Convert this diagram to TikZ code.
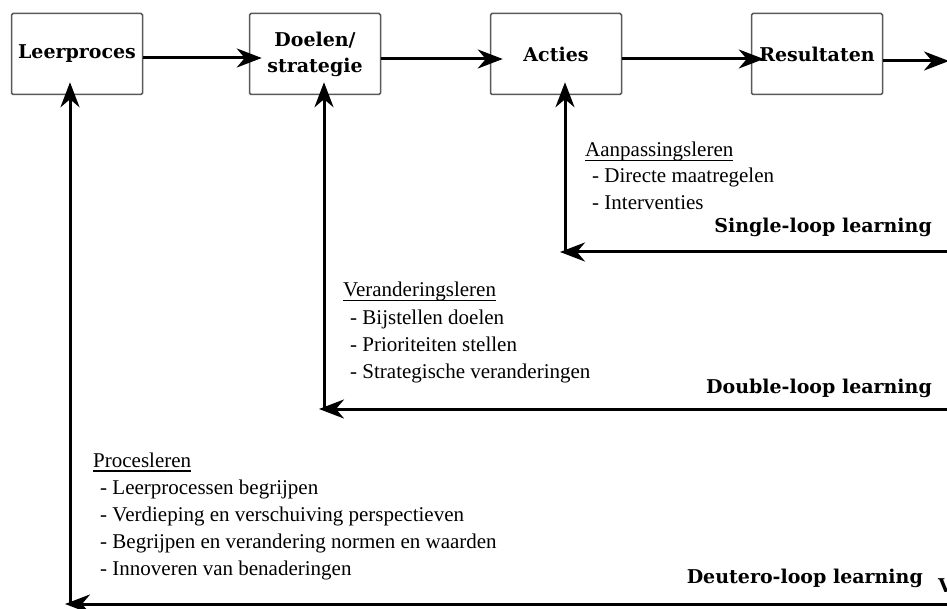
\documentclass[tikz,border=0pt]{standalone}
\usepackage{fontspec}
\setmainfont{Liberation Serif}
\newfontfamily\stagefont{DejaVu Serif}
\usetikzlibrary{arrows.meta}

% underlined heading word
\newcommand\headword[1]{\setbox0=\hbox{#1}\rlap{\rule[-4.5pt]{\wd0}{1.1pt}}\box0}

\begin{document}
\begin{tikzpicture}[x=1pt,y=-1pt,
  stage/.style={draw=black!65, line width=1.5pt, rounded corners=1.5pt,
    minimum width=131pt, minimum height=81pt, inner sep=0pt, align=center,
    font=\stagefont\bfseries\fontsize{19}{26}\selectfont},
  flow/.style={line width=3pt, -{Stealth[length=25pt,width=19pt,inset=8pt]}},
  into/.style={flow, shorten >=-13pt},
  back/.style={flow, shorten >=-5pt},
  note/.style={anchor=base west, inner sep=0pt, font=\fontsize{21}{27}\selectfont},
  looplabel/.style={anchor=base east, inner sep=0pt,
    font=\stagefont\bfseries\fontsize{19}{26}\selectfont}]

\useasboundingbox (0,0) rectangle (947,609);

% main chain of stages
\node[stage] (leer)   at (77,54)  {Leerproces};
\node[stage] (doel)   at (315,54) {Doelen/\\strategie};
\node[stage] (acties) at (556,54) {Acties};
\node[stage] (result) at (817,54) {Resultaten};
\coordinate (out) at (949,61);

\draw[into] ([yshift=-4pt]leer.east)   -- ([yshift=-4pt]doel.west);
\draw[into] ([yshift=-5pt]doel.east)   -- ([yshift=-5pt]acties.west);
\draw[into] ([yshift=-5pt]acties.east) -- ([yshift=-5pt]result.west);
\draw[flow] ([yshift=-7pt]result.east) -- (out);

% feedback loops
\coordinate (slR) at (950,252); \coordinate (slC) at (565,252);
\coordinate (dlR) at (950,409); \coordinate (dlC) at (324,409);
\coordinate (tlR) at (950,604); \coordinate (tlC) at (70,604);

\draw[back] (slR) -- (slC);
\draw[into] (slC) -- (slC |- acties.south);
\draw[back] (dlR) -- (dlC);
\draw[into] (dlC) -- (dlC |- doel.south);
\draw[back] (tlR) -- (tlC);
\draw[into] (tlC) -- (tlC |- leer.south);

% single loop
\node[note] (sl0) at (585,157) {\headword{Aanpassingsleren}};
\node[note] (sl1) at (592,183) {- Directe maatregelen};
\node[note] (sl2) at (592,210) {- Interventies};
\node[looplabel] (slT) at (932,233) {Single-loop learning};

% double loop
\node[note] (dl0) at (343,297) {\headword{Veranderingsleren}};
\node[note] (dl1) at (350,325) {- Bijstellen doelen};
\node[note] (dl2) at (350,352) {- Prioriteiten stellen};
\node[note] (dl3) at (350,378) {- Strategische veranderingen};
\node[looplabel] (dlT) at (932,393) {Double-loop learning};

% deutero loop
\node[note] (tl0) at (93,467)  {\headword{Procesleren}};
\node[note] (tl1) at (100,494) {- Leerprocessen begrijpen};
\node[note] (tl2) at (100,521) {- Verdieping en verschuiving perspectieven};
\node[note] (tl3) at (100,548) {- Begrijpen en verandering normen en waarden};
\node[note] (tl4) at (100,575) {- Innoveren van benaderingen};
\node[looplabel] (tlT) at (923,583) {Deutero-loop learning};
\node[anchor=base west, inner sep=0pt,
  font=\stagefont\bfseries\fontsize{19}{26}\selectfont] (edge) at (938,592) {V};
\end{tikzpicture}
\end{document}
